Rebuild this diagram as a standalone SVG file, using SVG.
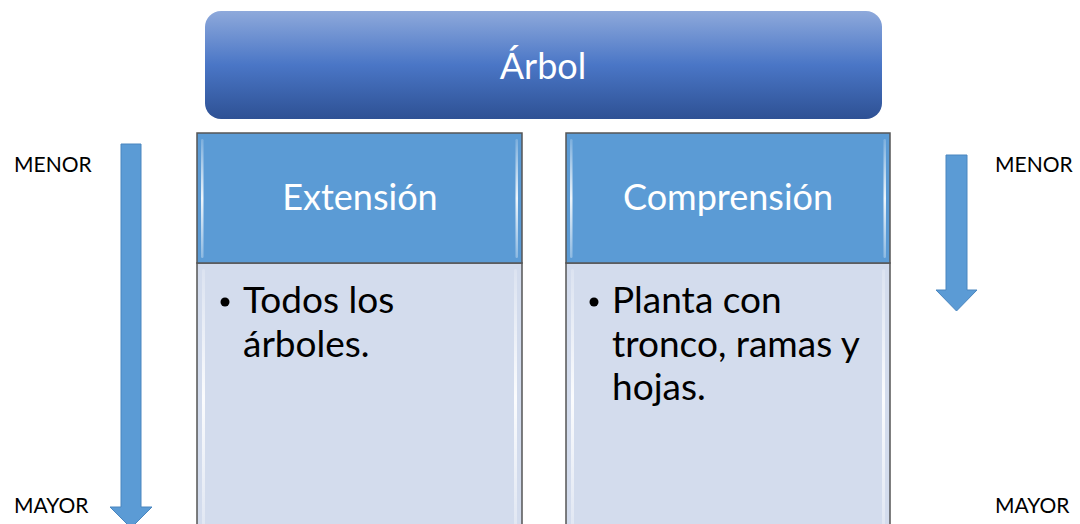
<svg xmlns="http://www.w3.org/2000/svg" width="1080" height="524" viewBox="0 0 1080 524">
<defs>
<linearGradient id="gTop" x1="0" y1="0" x2="0" y2="1">
<stop offset="0" stop-color="#8EA9DB"/>
<stop offset="0.5" stop-color="#4A76C6"/>
<stop offset="1" stop-color="#2E5194"/>
</linearGradient>
<linearGradient id="gHl" x1="0" y1="0" x2="0" y2="1">
<stop offset="0" stop-color="#ffffff" stop-opacity="0.2"/>
<stop offset="0.5" stop-color="#ffffff" stop-opacity="0.9"/>
<stop offset="1" stop-color="#ffffff" stop-opacity="0.3"/>
</linearGradient>
</defs>
<style>
.t{font-family:Lato,"Open Sans","Liberation Sans",sans-serif;}
.hdr{fill:#5B9BD5;stroke:#555;stroke-width:1.5;}
.body{fill:#D3DCED;stroke:#555;stroke-width:1.5;}
.hl{fill:url(#gHl);}
.ht{fill:#fff;font-size:36px;text-anchor:middle;}
.bt{fill:#000;font-size:37px;}
.lbl{fill:#000;font-size:21px;}
.arr{fill:#5B9BD5;stroke:#4A86BF;stroke-width:1;}
</style>
<rect width="1080" height="524" fill="#fff"/>
<g id="arbol">
<rect x="205" y="11" width="677" height="108" rx="16" fill="url(#gTop)"/>
<text class="t ht" x="543" y="79">Árbol</text>
</g>
<g id="extension">
<rect class="body" x="197" y="263" width="325" height="275"/>
<rect class="hl" x="202" y="269" width="3" height="260" rx="1.5"/>
<rect class="hl" x="514" y="269" width="3" height="260" rx="1.5"/>
<rect class="hdr" x="197" y="133" width="325" height="130"/>
<rect class="hl" x="201" y="139" width="2.5" height="119" rx="1.2"/>
<rect class="hl" x="515.5" y="139" width="2.5" height="119" rx="1.2"/>
<text class="t ht" x="360" y="210">Extensión</text>
<circle cx="225" cy="302" r="4.5" fill="#000"/>
<text class="t bt" x="243" y="313">Todos los</text>
<text class="t bt" x="243" y="357">árboles.</text>
</g>
<g id="comprension">
<rect class="body" x="566" y="263" width="324" height="275"/>
<rect class="hl" x="571" y="269" width="3" height="260" rx="1.5"/>
<rect class="hl" x="882" y="269" width="3" height="260" rx="1.5"/>
<rect class="hdr" x="566" y="133" width="324" height="130"/>
<rect class="hl" x="570" y="139" width="2.5" height="119" rx="1.2"/>
<rect class="hl" x="883.5" y="139" width="2.5" height="119" rx="1.2"/>
<text class="t ht" x="728" y="210">Comprensión</text>
<circle cx="594" cy="302" r="4.5" fill="#000"/>
<text class="t bt" x="612" y="313">Planta con</text>
<text class="t bt" x="612" y="357">tronco, ramas y</text>
<text class="t bt" x="612" y="400">hojas.</text>
</g>
<g id="connectors">
<path class="arr" d="M121,144 H141 V507 H152 L131,528 L110,507 H121 Z"/>
<path class="arr" d="M946,155 H967 V290 H977 L956.5,311 L936,290 H946 Z"/>
</g>
<g id="labels">
<text class="t lbl" x="14" y="172">MENOR</text>
<text class="t lbl" x="14" y="513">MAYOR</text>
<text class="t lbl" x="995" y="172">MENOR</text>
<text class="t lbl" x="995" y="513">MAYOR</text>
</g>
</svg>
